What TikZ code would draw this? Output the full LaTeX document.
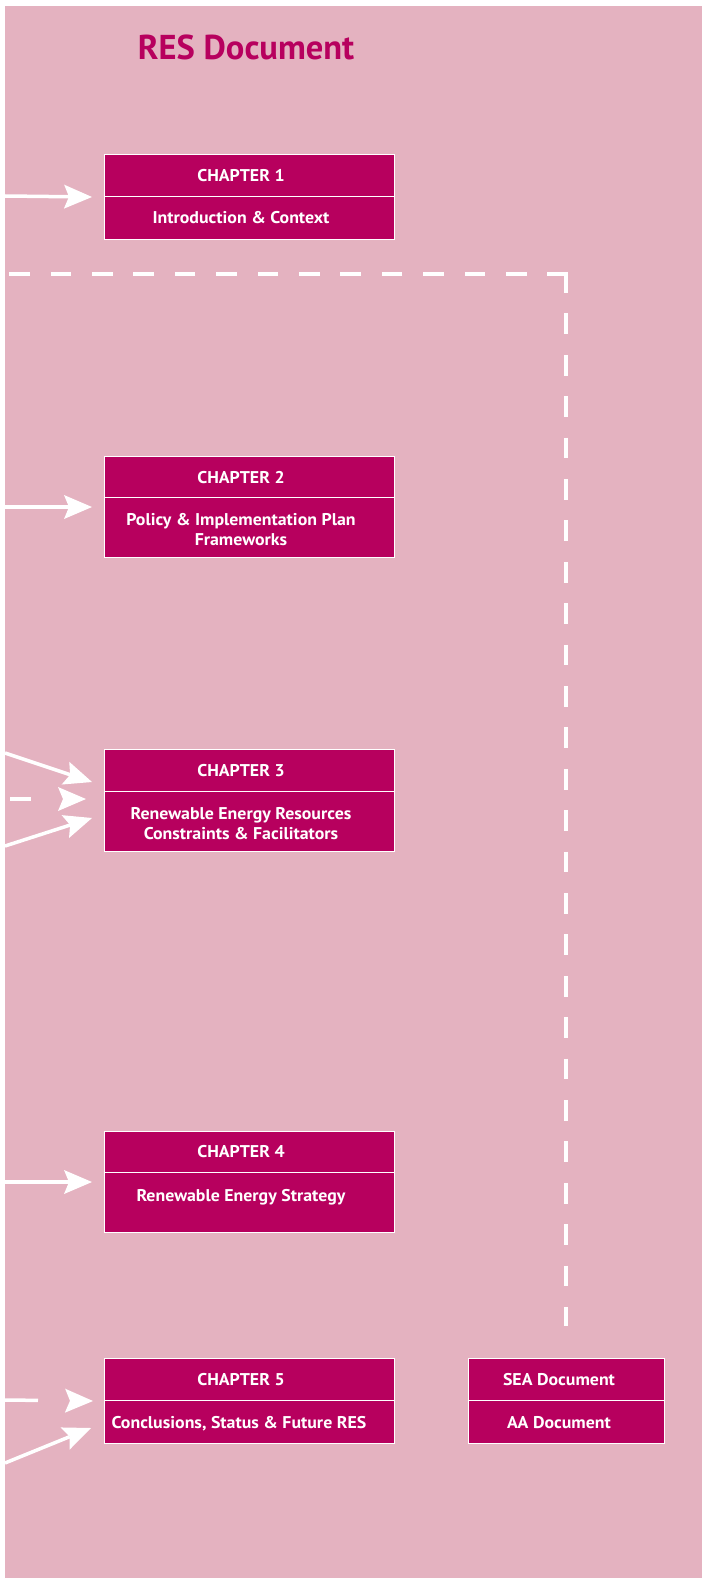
\documentclass[tikz,border=0pt]{standalone}
\usepackage{fontspec}
\newfontfamily\ptsans{PT Sans}
\newfontfamily\ptsanswide[FakeStretch=1.05]{PT Sans}
\usetikzlibrary{arrows.meta}
\definecolor{resmag}{RGB}{183,0,94}
\definecolor{respink}{RGB}{228,178,192}
\begin{document}
\begin{tikzpicture}[x=1pt,y=-1pt,
 part/.style={draw=white, line width=1pt, fill=resmag, inner sep=0pt, anchor=north west},
 txt/.style={text=white, font=\ptsanswide\bfseries\fontsize{17}{20}\selectfont, anchor=base, inner sep=0pt},
 arr/.style={draw=white, line width=3.5pt, -{Stealth[length=28pt,width=24pt,inset=5pt,line width=0pt]}},
 dashln/.style={draw=white, line width=4pt, dash pattern=on 20.7pt off 20.7pt}]
\useasboundingbox (0,0) rectangle (702,1578);
\fill[white] (0,0) rectangle (702,1578);
\fill[respink] (5,6) rectangle (702,1578);

\node[text=resmag, font=\ptsans\bfseries\fontsize{34.5}{40}\selectfont, anchor=base, inner sep=0pt] (title) at (246,60) {RES Document};

% boxes
\node[part, minimum width=290pt, minimum height=42pt] (c1a) at (104,154) {};
\node[part, minimum width=290pt, minimum height=43pt] (c1b) at (104,196) {};
\node[part, minimum width=290pt, minimum height=41pt] (c2a) at (104,456) {};
\node[part, minimum width=290pt, minimum height=60pt] (c2b) at (104,497) {};
\node[part, minimum width=290pt, minimum height=42pt] (c3a) at (104,749) {};
\node[part, minimum width=290pt, minimum height=60pt] (c3b) at (104,791) {};
\node[part, minimum width=290pt, minimum height=41pt] (c4a) at (104,1131) {};
\node[part, minimum width=290pt, minimum height=60pt] (c4b) at (104,1172) {};
\node[part, minimum width=290pt, minimum height=42pt] (c5a) at (104,1358) {};
\node[part, minimum width=290pt, minimum height=43pt] (c5b) at (104,1400) {};
\node[part, minimum width=196pt, minimum height=42pt] (sea) at (468,1358) {};
\node[part, minimum width=196pt, minimum height=43pt] (aa) at (468,1400) {};

% texts
\node[txt] (t1a) at (241,182) {CHAPTER 1};
\node[txt] (t1b) at (241,224) {Introduction \& Context};
\node[txt] (t2a) at (241,483.5) {CHAPTER 2};
\node[txt] (t2b) at (241,525.5) {Policy \& Implementation Plan};
\node[txt] (t2c) at (241,545.5) {Frameworks};
\node[txt] (t3a) at (241,776) {CHAPTER 3};
\node[txt] (t3b) at (241,819.5) {Renewable Energy Resources};
\node[txt] (t3c) at (241,839) {Constraints \& Facilitators};
\node[txt] (t4a) at (241,1157) {CHAPTER 4};
\node[txt] (t4b) at (241,1201.5) {Renewable Energy Strategy};
\node[txt] (t5a) at (241,1385) {CHAPTER 5};
\node[txt] (t5b) at (239,1428) {Conclusions, Status \& Future RES};
\node[txt] (tsea) at (559,1385) {SEA Document};
\node[txt] (taa) at (559,1428) {AA Document};

% dashed frame
\coordinate (dc) at (566,274);
\coordinate (dl) at (5,274);
\coordinate (db) at (566,1326);
\draw[dashln] ([xshift=2pt]dc) -- (dl);
\draw[dashln] ([yshift=2pt]dc) -- (db);

% arrows
\coordinate (s1) at (5,196);
\coordinate (s2) at (5,507);
\coordinate (s3a) at (5,753);
\coordinate (s3b) at (10,799);
\coordinate (s3c) at (5,846);
\coordinate (s4) at (5,1182);
\coordinate (s5a) at (5,1400);
\coordinate (s5b) at (5,1463);
\draw[arr] (s1) -- ([xshift=-12pt]c1a.south west);
\draw[arr] (s2) -- ([shift={(-12,10)}]c2b.north west);
\draw[arr] (s3a) -- ([shift={(-12,-9)}]c3b.north west);
\draw[arr, dash pattern=on 21pt off 60pt] (s3b) -- ([shift={(-18,8)}]c3b.north west);
\draw[arr] (s3c) -- ([shift={(-12,27)}]c3b.north west);
\draw[arr] (s4) -- ([shift={(-12,10)}]c4b.north west);
\draw[arr, dash pattern=on 33pt off 60pt] (s5a) -- ([xshift=-11pt]c5a.south west);
\draw[arr] (s5b) -- ([shift={(-13,28)}]c5b.north west);
\end{tikzpicture}
\end{document}
